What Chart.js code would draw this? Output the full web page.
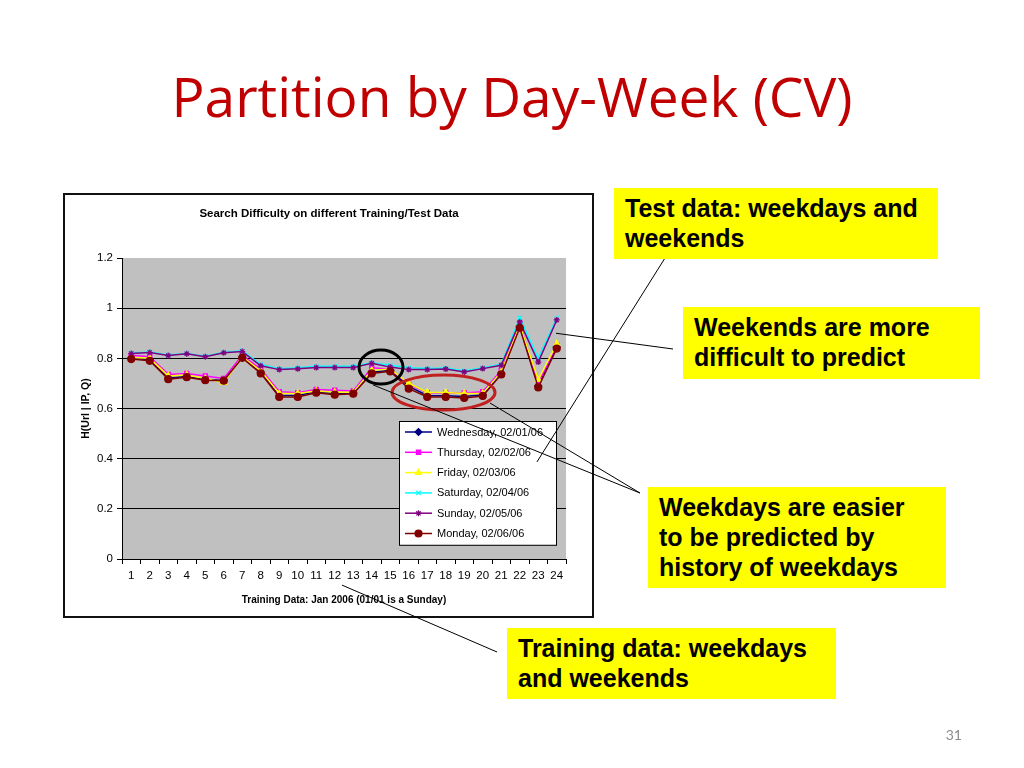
<!DOCTYPE html>
<html>
<head>
<meta charset="utf-8">
<title>Partition by Day-Week (CV)</title>
<script src="https://cdn.jsdelivr.net/npm/chart.js@4.4.1/dist/chart.umd.min.js"></script>
<style>
  html, body { margin: 0; padding: 0; background: #fff; }
  #slide { position: relative; width: 1024px; height: 768px; overflow: hidden; }
  #wrap { position: absolute; left: 0; top: 0; width: 1024px; height: 768px; }
  #title {
    position: absolute; left: 0; top: 66px; width: 1024px; text-align: center;
    font-family: "Open Sans", Lato, sans-serif; font-size: 55px; line-height: 60px;
    font-variant-ligatures: none;
    color: #c00000; white-space: nowrap;
  }
  .note {
    position: absolute; background: #ffff00; box-sizing: border-box;
    padding: 5px 11px; font-family: "Liberation Sans", Arial, sans-serif;
    font-weight: bold; font-size: 25px; line-height: 30px; color: #000; white-space: nowrap;
  }
  #pagenum {
    position: absolute; left: 930px; top: 726px; width: 32px; text-align: right;
    font-family: Lato, sans-serif; font-size: 14px; color: #8c8c8c;
  }
</style>
</head>
<body>
<div id="slide">
  <div id="wrap"><canvas id="chart"></canvas></div>
  <div id="title">Partition by Day-Week (CV)</div>
  <div class="note" style="left:614px;top:188px;width:324px;height:71px">Test data: weekdays and<br>weekends</div>
  <div class="note" style="left:683px;top:307px;width:297px;height:72px">Weekends are more<br>difficult to predict</div>
  <div class="note" style="left:648px;top:487px;width:298px;height:101px">Weekdays are easier<br>to be predicted by<br>history of weekdays</div>
  <div class="note" style="left:507px;top:628px;width:329px;height:71px">Training data: weekdays<br>and weekends</div>
  <div id="pagenum">31</div>
</div>
<script>
// training days (Jan 2006)
const days = ['1','2','3','4','5','6','7','8','9','10','11','12','13','14','15','16','17','18','19','20','21','22','23','24'];
const yTicks = [0, 0.2, 0.4, 0.6, 0.8, 1, 1.2];

// H(Url | IP, Q) per test day
const wednesday = [0.800,0.795,0.722,0.728,0.716,0.712,0.804,0.745,0.652,0.652,0.667,0.660,0.662,0.745,0.752,0.688,0.652,0.651,0.648,0.655,0.740,0.928,0.690,0.845];
const thursday  = [0.812,0.806,0.736,0.740,0.730,0.720,0.812,0.757,0.667,0.663,0.676,0.673,0.670,0.762,0.757,0.697,0.663,0.662,0.662,0.667,0.752,0.940,0.700,0.852];
const friday    = [0.803,0.800,0.730,0.734,0.720,0.703,0.806,0.750,0.660,0.660,0.670,0.665,0.665,0.752,0.757,0.700,0.665,0.664,0.660,0.660,0.746,0.932,0.715,0.858];
const saturday  = [0.821,0.825,0.813,0.819,0.808,0.824,0.830,0.776,0.758,0.762,0.768,0.768,0.768,0.782,0.772,0.762,0.759,0.761,0.750,0.762,0.776,0.962,0.800,0.962];
const sunday    = [0.819,0.823,0.811,0.818,0.806,0.822,0.827,0.770,0.755,0.758,0.763,0.763,0.763,0.780,0.765,0.755,0.755,0.757,0.746,0.759,0.772,0.945,0.785,0.953];
const monday    = [0.797,0.790,0.717,0.725,0.713,0.711,0.802,0.740,0.646,0.646,0.663,0.655,0.659,0.740,0.748,0.679,0.646,0.646,0.642,0.650,0.736,0.922,0.684,0.839];

const seriesNames = ['Wednesday, 02/01/06','Thursday, 02/02/06','Friday, 02/03/06','Saturday, 02/04/06','Sunday, 02/05/06','Monday, 02/06/06'];
const seriesData = [wednesday, thursday, friday, saturday, sunday, monday];
const seriesColors = ['#000080','#ff00ff','#ffff00','#00ffff','#800080','#800000'];
const seriesMarkers = ['rectRot','rect','triangle','crossRot','star','circle'];
const markerSizes = [3.5, 3, 3.5, 3, 3, 3.5];

const FONT = '"Liberation Sans", Arial, sans-serif';

function makeDataset(i) {
  return {
    label: seriesNames[i],
    data: seriesData[i],
    borderColor: seriesColors[i],
    backgroundColor: seriesColors[i],
    borderWidth: 1.5,
    pointStyle: seriesMarkers[i],
    pointRadius: markerSizes[i],
    pointBorderWidth: 1.2,
    order: seriesData.length - i, // later series on top, like excel
    tension: 0
  };
}

// page decorations: chart frame, grey plot area, title, legend, callouts
const slideDecor = {
  id: 'slideDecor',
  beforeDraw(chart) {
    const ctx = chart.ctx, a = chart.chartArea;
    ctx.save();
    ctx.fillStyle = '#fff';
    ctx.fillRect(64, 194, 529, 423);
    ctx.strokeStyle = '#111';
    ctx.lineWidth = 2;
    ctx.strokeRect(64, 194, 529, 423);
    ctx.fillStyle = '#c0c0c0';
    ctx.fillRect(a.left, a.top, a.right - a.left, a.bottom - a.top);
    ctx.fillStyle = '#000';
    ctx.font = 'bold 11.5px ' + FONT;
    ctx.textAlign = 'center';
    ctx.textBaseline = 'middle';
    ctx.fillText('Search Difficulty on different Training/Test Data', 329, 214);
    ctx.restore();
  },
  afterDraw(chart) {
    const ctx = chart.ctx, a = chart.chartArea;
    const xs = chart.scales.x, ys = chart.scales.y;
    ctx.save();

    // legend box inside the plot
    const lx = a.left + 277, ly = a.top + 163, lw = 157, rowH = 20.3;
    ctx.fillStyle = '#fff';
    ctx.fillRect(lx, ly, lw, rowH * 6 + 2);
    ctx.strokeStyle = '#000';
    ctx.lineWidth = 1;
    ctx.strokeRect(lx + 0.5, ly + 0.5, lw, rowH * 6 + 2);
    chart.data.datasets.forEach((ds, i) => {
      const cy = ly + 11 + i * rowH;
      ctx.strokeStyle = ds.borderColor;
      ctx.lineWidth = 1.5;
      ctx.beginPath();
      ctx.moveTo(lx + 6, cy);
      ctx.lineTo(lx + 33, cy);
      ctx.stroke();
      ctx.fillStyle = ds.backgroundColor;
      ctx.lineWidth = 1.2;
      Chart.helpers.drawPoint(ctx, {
        pointStyle: ds.pointStyle, radius: ds.pointRadius, borderWidth: 1.2, rotation: 0
      }, lx + 19.5, cy);
      ctx.fillStyle = '#000';
      ctx.font = '11px ' + FONT;
      ctx.textAlign = 'left';
      ctx.textBaseline = 'middle';
      ctx.fillText(ds.label, lx + 38, cy + 0.5);
    });

    // highlight ellipses
    ctx.lineWidth = 3;
    ctx.strokeStyle = '#000';
    ctx.beginPath();
    ctx.ellipse(xs.getPixelForValue(13.5), ys.getPixelForValue(0.765), 22, 17, 0, 0, Math.PI * 2);
    ctx.stroke();
    ctx.strokeStyle = '#c0201f';
    ctx.beginPath();
    ctx.ellipse(xs.getPixelForValue(16.88), ys.getPixelForValue(0.664), 51.5, 17.5, 0, 0, Math.PI * 2);
    ctx.stroke();

    // callout lines: box end in page pixels, chart end in data units
    const callouts = [
      [665, 258, 21.93, 0.387],
      [673, 349, 22.96, 0.90],
      [640, 493, 13.07, 0.694],
      [640, 493, 19.39, 0.622],
      [497, 652, 11.39, -0.104]
    ];
    ctx.strokeStyle = '#000';
    ctx.lineWidth = 1;
    callouts.forEach(c => {
      ctx.beginPath();
      ctx.moveTo(c[0], c[1]);
      ctx.lineTo(xs.getPixelForValue(c[2]), ys.getPixelForValue(c[3]));
      ctx.stroke();
    });
    ctx.restore();
  }
};

new Chart(document.getElementById('chart'), {
  type: 'line',
  data: {
    labels: days,
    datasets: seriesData.map((d, i) => makeDataset(i))
  },
  options: {
    responsive: true,
    maintainAspectRatio: false,
    animation: false,
    layout: { padding: { left: 66, right: 458, top: 258, bottom: 156 } },
    plugins: {
      legend: { display: false },
      title: { display: false },
      tooltip: { enabled: false }
    },
    scales: {
      x: {
        type: 'category',
        offset: true,
        afterFit(scale) { scale.height = 53; },
        grid: { offset: true, drawOnChartArea: false, drawTicks: true, tickLength: 5, color: '#000' },
        border: { display: true, color: '#000', width: 1 },
        ticks: { color: '#000', font: { family: FONT, size: 11.5 }, padding: 5, maxRotation: 0, autoSkip: false },
        title: {
          display: true, text: 'Training Data: Jan 2006 (01/01 is a Sunday)', color: '#000',
          font: { family: FONT, size: 10, weight: 'bold' }, padding: { top: 0, bottom: 6 }
        }
      },
      y: {
        min: 0,
        max: 1.2,
        afterFit(scale) { scale.width = 56; },
        afterBuildTicks(scale) { scale.ticks = yTicks.map(v => ({ value: v })); },
        grid: {
          color: ctx => (ctx.tick && ctx.tick.value === 1.2) ? 'rgba(0,0,0,0)' : '#000',
          tickColor: '#000', tickLength: 5, lineWidth: 1
        },
        border: { display: true, color: '#000', width: 1 },
        ticks: { color: '#000', font: { family: FONT, size: 11.5 }, padding: 4, callback: v => String(v) },
        title: {
          display: true, text: 'H(Url | IP, Q)', color: '#000',
          font: { family: FONT, size: 10.5, weight: 'bold' }, padding: { top: 14, bottom: 0 }
        }
      }
    }
  },
  plugins: [slideDecor]
});
</script>
</body>
</html>
